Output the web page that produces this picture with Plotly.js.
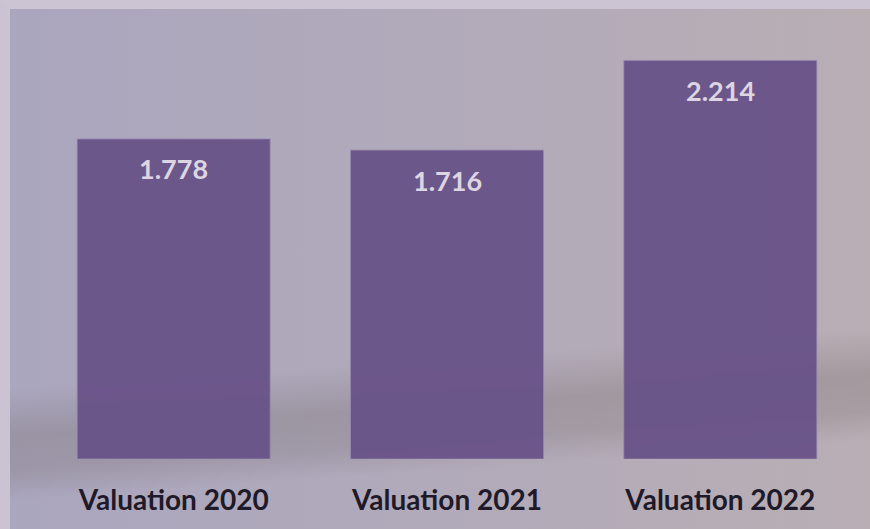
<!DOCTYPE html>
<html>
<head>
<meta charset="utf-8">
<script src="https://cdn.plot.ly/plotly-3.0.1.min.js"></script>
<style>
html,body{margin:0;padding:0;}
#chart{width:870px;height:529px;
background:
 linear-gradient(176deg, rgba(0,0,0,0) 66%, rgba(115,105,105,0.30) 74%, rgba(115,105,105,0.25) 80%, rgba(0,0,0,0) 85%),
 linear-gradient(90deg, #aaa6be 0%, #b0a9bb 40%, #b8aeb4 100%);
}
#frame{position:absolute;left:0;top:0;width:870px;height:529px;box-sizing:border-box;border-left:10px solid #cbc2d2;border-top:9px solid #cdc4d3;pointer-events:none;}
</style>
</head>
<body>
<div style="position:relative;width:870px;height:529px;">
<div id="chart"></div>
<div id="frame"></div>
</div>
<script>
const categories = ["Valuation 2020", "Valuation 2021", "Valuation 2022"];
const values = [1.778, 1.716, 2.214];
const valueLabels = ["1.778", "1.716", "2.214"];

const trace = {
  type: "bar",
  x: categories,
  y: values,
  marker: {color: "rgba(104,82,136,0.95)", line: {color: "rgba(150,135,175,0.8)", width: 1}},
  hoverinfo: "none"
};

const annotations = categories.map((c, i) => ({
  x: c, y: values[i], xref: "x", yref: "y",
  text: valueLabels[i],
  showarrow: false, yshift: -30,
  font: {family: "Lato, 'Open Sans', sans-serif", size: 27, color: "#ddd6e2", weight: "bold"}
}));

const layout = {
  width: 870, height: 529,
  margin: {l: 37, r: 13, t: 27, b: 70},
  paper_bgcolor: "rgba(0,0,0,0)",
  plot_bgcolor: "rgba(0,0,0,0)",
  bargap: 0.294,
  showlegend: false,
  xaxis: {
    showgrid: false, zeroline: false, showline: false, ticks: "",
    ticklabelstandoff: 22,
    tickfont: {family: "Lato, 'Open Sans', sans-serif", size: 28, color: "#1f1a29", weight: "bold"}
  },
  yaxis: {range: [0, 2.4], visible: false, showgrid: false, zeroline: false},
  annotations: annotations
};

Plotly.newPlot("chart", [trace], layout, {displayModeBar: false, staticPlot: true});
</script>
</body>
</html>
